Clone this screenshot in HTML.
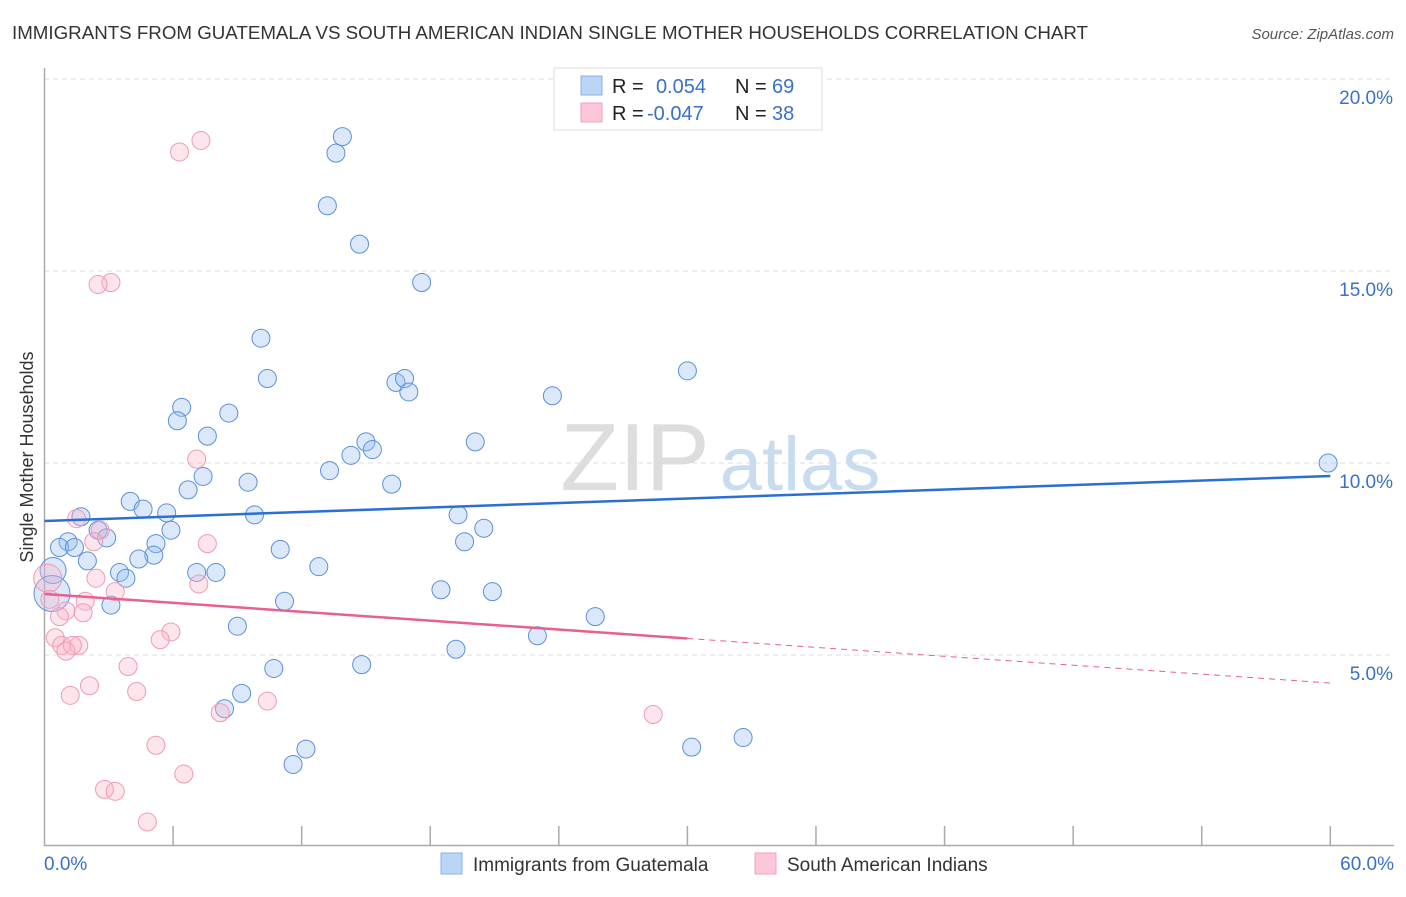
<!DOCTYPE html>
<html><head><meta charset="utf-8"><style>
body{margin:0;background:#fff;font-family:"Liberation Sans",sans-serif;}
svg text{font-family:"Liberation Sans",sans-serif;}
</style></head><body>
<svg id="c" width="1406" height="892">
<text x="12" y="39" font-size="18" fill="#333" textLength="1076" lengthAdjust="spacingAndGlyphs">IMMIGRANTS FROM GUATEMALA VS SOUTH AMERICAN INDIAN SINGLE MOTHER HOUSEHOLDS CORRELATION CHART</text>
<text x="1394" y="39" font-size="15" fill="#555" text-anchor="end" font-style="italic">Source: ZipAtlas.com</text>
<text x="33" y="457" font-size="18" fill="#333" text-anchor="middle" transform="rotate(-90 33 457)">Single Mother Households</text>
<g><text x="635" y="490" font-size="96" fill="#ddd" text-anchor="middle" font-family="Liberation Serif">ZIP</text><text x="800" y="490" font-size="76" fill="#c8dcf0" text-anchor="middle">atlas</text></g>
<g id="grid"></g><g id="axes"></g><g id="pts"></g><g id="trend"></g>
<g>
<rect x="554" y="68" width="268" height="62" fill="#fff" stroke="#ddd"/>
<rect x="581" y="76" width="21" height="19" fill="#bcd4f5" stroke="#8ab0e8"/>
<rect x="581" y="103" width="21" height="19" fill="#fcc8d8" stroke="#f0a0b8"/>
<text x="612" y="93" font-size="20" fill="#222">R = </text><text x="656" y="93" font-size="20" fill="#3a70c8">0.054</text>
<text x="735" y="93" font-size="20" fill="#222">N = </text><text x="772" y="93" font-size="20" fill="#3a70c8">69</text>
<text x="612" y="120" font-size="20" fill="#222">R = </text><text x="647" y="120" font-size="20" fill="#3a70c8">-0.047</text>
<text x="735" y="120" font-size="20" fill="#222">N = </text><text x="772" y="120" font-size="20" fill="#3a70c8">38</text>
</g>
<g>
<rect x="441" y="853" width="21" height="21" fill="#bcd4f5" stroke="#8ab0e8"/>
<text x="473" y="871" font-size="19" fill="#333">Immigrants from Guatemala</text>
<rect x="755" y="853" width="21" height="21" fill="#fcc8d8" stroke="#f0a0b8"/>
<text x="787" y="871" font-size="19" fill="#333">South American Indians</text>
</g>
</svg>
<script>
const blueX=[13.6,13.9,13.2,14.7,17.6,10.1,10.4,30.0,16.4,16.8,17.0,23.7,6.4,6.2,8.6,7.6,20.1,15.0,15.3,14.3,13.3,7.4,9.5,6.7,16.2,59.9,4.0,4.6,5.7,9.8,19.3,20.5,5.9,1.7,2.5,2.9,1.1,0.7,1.4,5.2,19.6,11.0,5.1,4.4,2.0,12.8,3.5,3.8,7.1,8.0,0.4,0.35,18.5,20.9,11.2,3.1,25.7,9.0,23.0,19.2,10.7,14.8,9.2,8.4,32.6,30.2,12.2,11.6];
const blueY=[18.07,18.5,16.7,15.7,14.7,13.25,12.2,12.4,12.1,12.2,11.85,11.75,11.45,11.1,11.3,10.7,10.55,10.55,10.35,10.2,9.8,9.65,9.5,9.3,9.45,10.0,9.0,8.8,8.7,8.65,8.65,8.3,8.25,8.6,8.25,8.05,7.95,7.8,7.8,7.9,7.95,7.75,7.6,7.5,7.45,7.3,7.15,7.0,7.15,7.15,7.2,6.6,6.7,6.65,6.4,6.3,6.0,5.75,5.5,5.15,4.65,4.75,4.0,3.6,2.85,2.6,2.55,2.15];
const blueR=blueX.map((x,i)=>i===51?18:(i===50?13:9));
const pinkX=[7.3,6.3,3.1,2.5,7.1,1.5,2.6,2.3,7.6,2.4,7.2,0.15,3.3,0.25,1.9,1.0,0.7,1.8,5.9,5.4,0.5,0.8,1.6,1.3,1.0,3.9,4.3,2.1,1.2,10.4,8.2,28.4,5.2,6.5,2.8,3.3,4.8];
const pinkY=[18.4,18.1,14.7,14.65,10.1,8.55,8.25,7.95,7.9,7.0,6.85,7.0,6.65,6.45,6.4,6.15,6.0,6.1,5.6,5.4,5.45,5.25,5.25,5.25,5.1,4.7,4.05,4.2,3.95,3.8,3.5,3.45,2.65,1.9,1.5,1.45,0.65];
const pinkR=pinkX.map((x,i)=>i===11?14:9);
const blueTrend=[8.49,9.66];   // y at x=0 and x=60
const pinkTrend=[6.59,4.27];   // y at x=0 and x=60, solid to x=30
const xTicks=[0,6,12,18,24,30,36,42,48,54,60];
const yTicks=[5,10,15,20];
const X=v=>44.5+v*21.43, Y=v=>847-v*38.4;
const NS="http://www.w3.org/2000/svg";
function mk(parent,tag,attrs){const e=document.createElementNS(NS,tag);for(const k in attrs)e.setAttribute(k,attrs[k]);document.getElementById(parent).appendChild(e);return e;}
yTicks.forEach(t=>{
  const l=mk('grid','line',{x1:44,x2:1394,y1:Y(t),y2:Y(t),stroke:'#ddd','stroke-dasharray':'5,4'});
  
  
  const tx=mk('grid','text',{x:1393,y:Y(t)+25,'font-size':19,fill:'#3a70c8','text-anchor':'end'});
  tx.textContent=t.toFixed(1)+'%';
  
  
});
const ax=mk('axes','path',{d:'M44.5 68V845.5H1394',stroke:'#aaa',fill:'none','stroke-width':1.5});


xTicks.forEach(t=>{
  if(t===0)return;
  const l=mk('axes','line',{x1:X(t),x2:X(t),y1:826,y2:845,stroke:'#aaa','stroke-width':1.5});
  
  
});
[[0,'start'],[60,'end']].forEach(([t,a])=>{
  const tx=mk('axes','text',{x:t===0?44:1394,y:870,'font-size':19,fill:'#3a70c8','text-anchor':a});
  tx.textContent=t.toFixed(1)+'%';
  
  
});
blueX.forEach((x,i)=>{
  const c=mk('pts','circle',{cx:X(x),cy:Y(blueY[i]),r:blueR[i],fill:'rgba(150,190,240,0.35)',stroke:'#5b8fdc','stroke-width':1});
  
  
});
pinkX.forEach((x,i)=>{
  const c=mk('pts','circle',{cx:X(x),cy:Y(pinkY[i]),r:pinkR[i],fill:'rgba(250,180,200,0.35)',stroke:'#ef9ab4','stroke-width':1});
  
  
});
const bl=mk('trend','line',{x1:X(0),y1:Y(blueTrend[0]),x2:X(60),y2:Y(blueTrend[1]),stroke:'#2a6fd4','stroke-width':2.5});


const pm=pinkTrend[0]+(pinkTrend[1]-pinkTrend[0])*0.5;
const pl=mk('trend','line',{x1:X(0),y1:Y(pinkTrend[0]),x2:X(30),y2:Y(pm),stroke:'#e8608c','stroke-width':2.5});


const pd=mk('trend','line',{x1:X(30),y1:Y(pm),x2:X(60),y2:Y(pinkTrend[1]),stroke:'#e8608c','stroke-width':1,'stroke-dasharray':'6,5'});


</script>
</body></html>
